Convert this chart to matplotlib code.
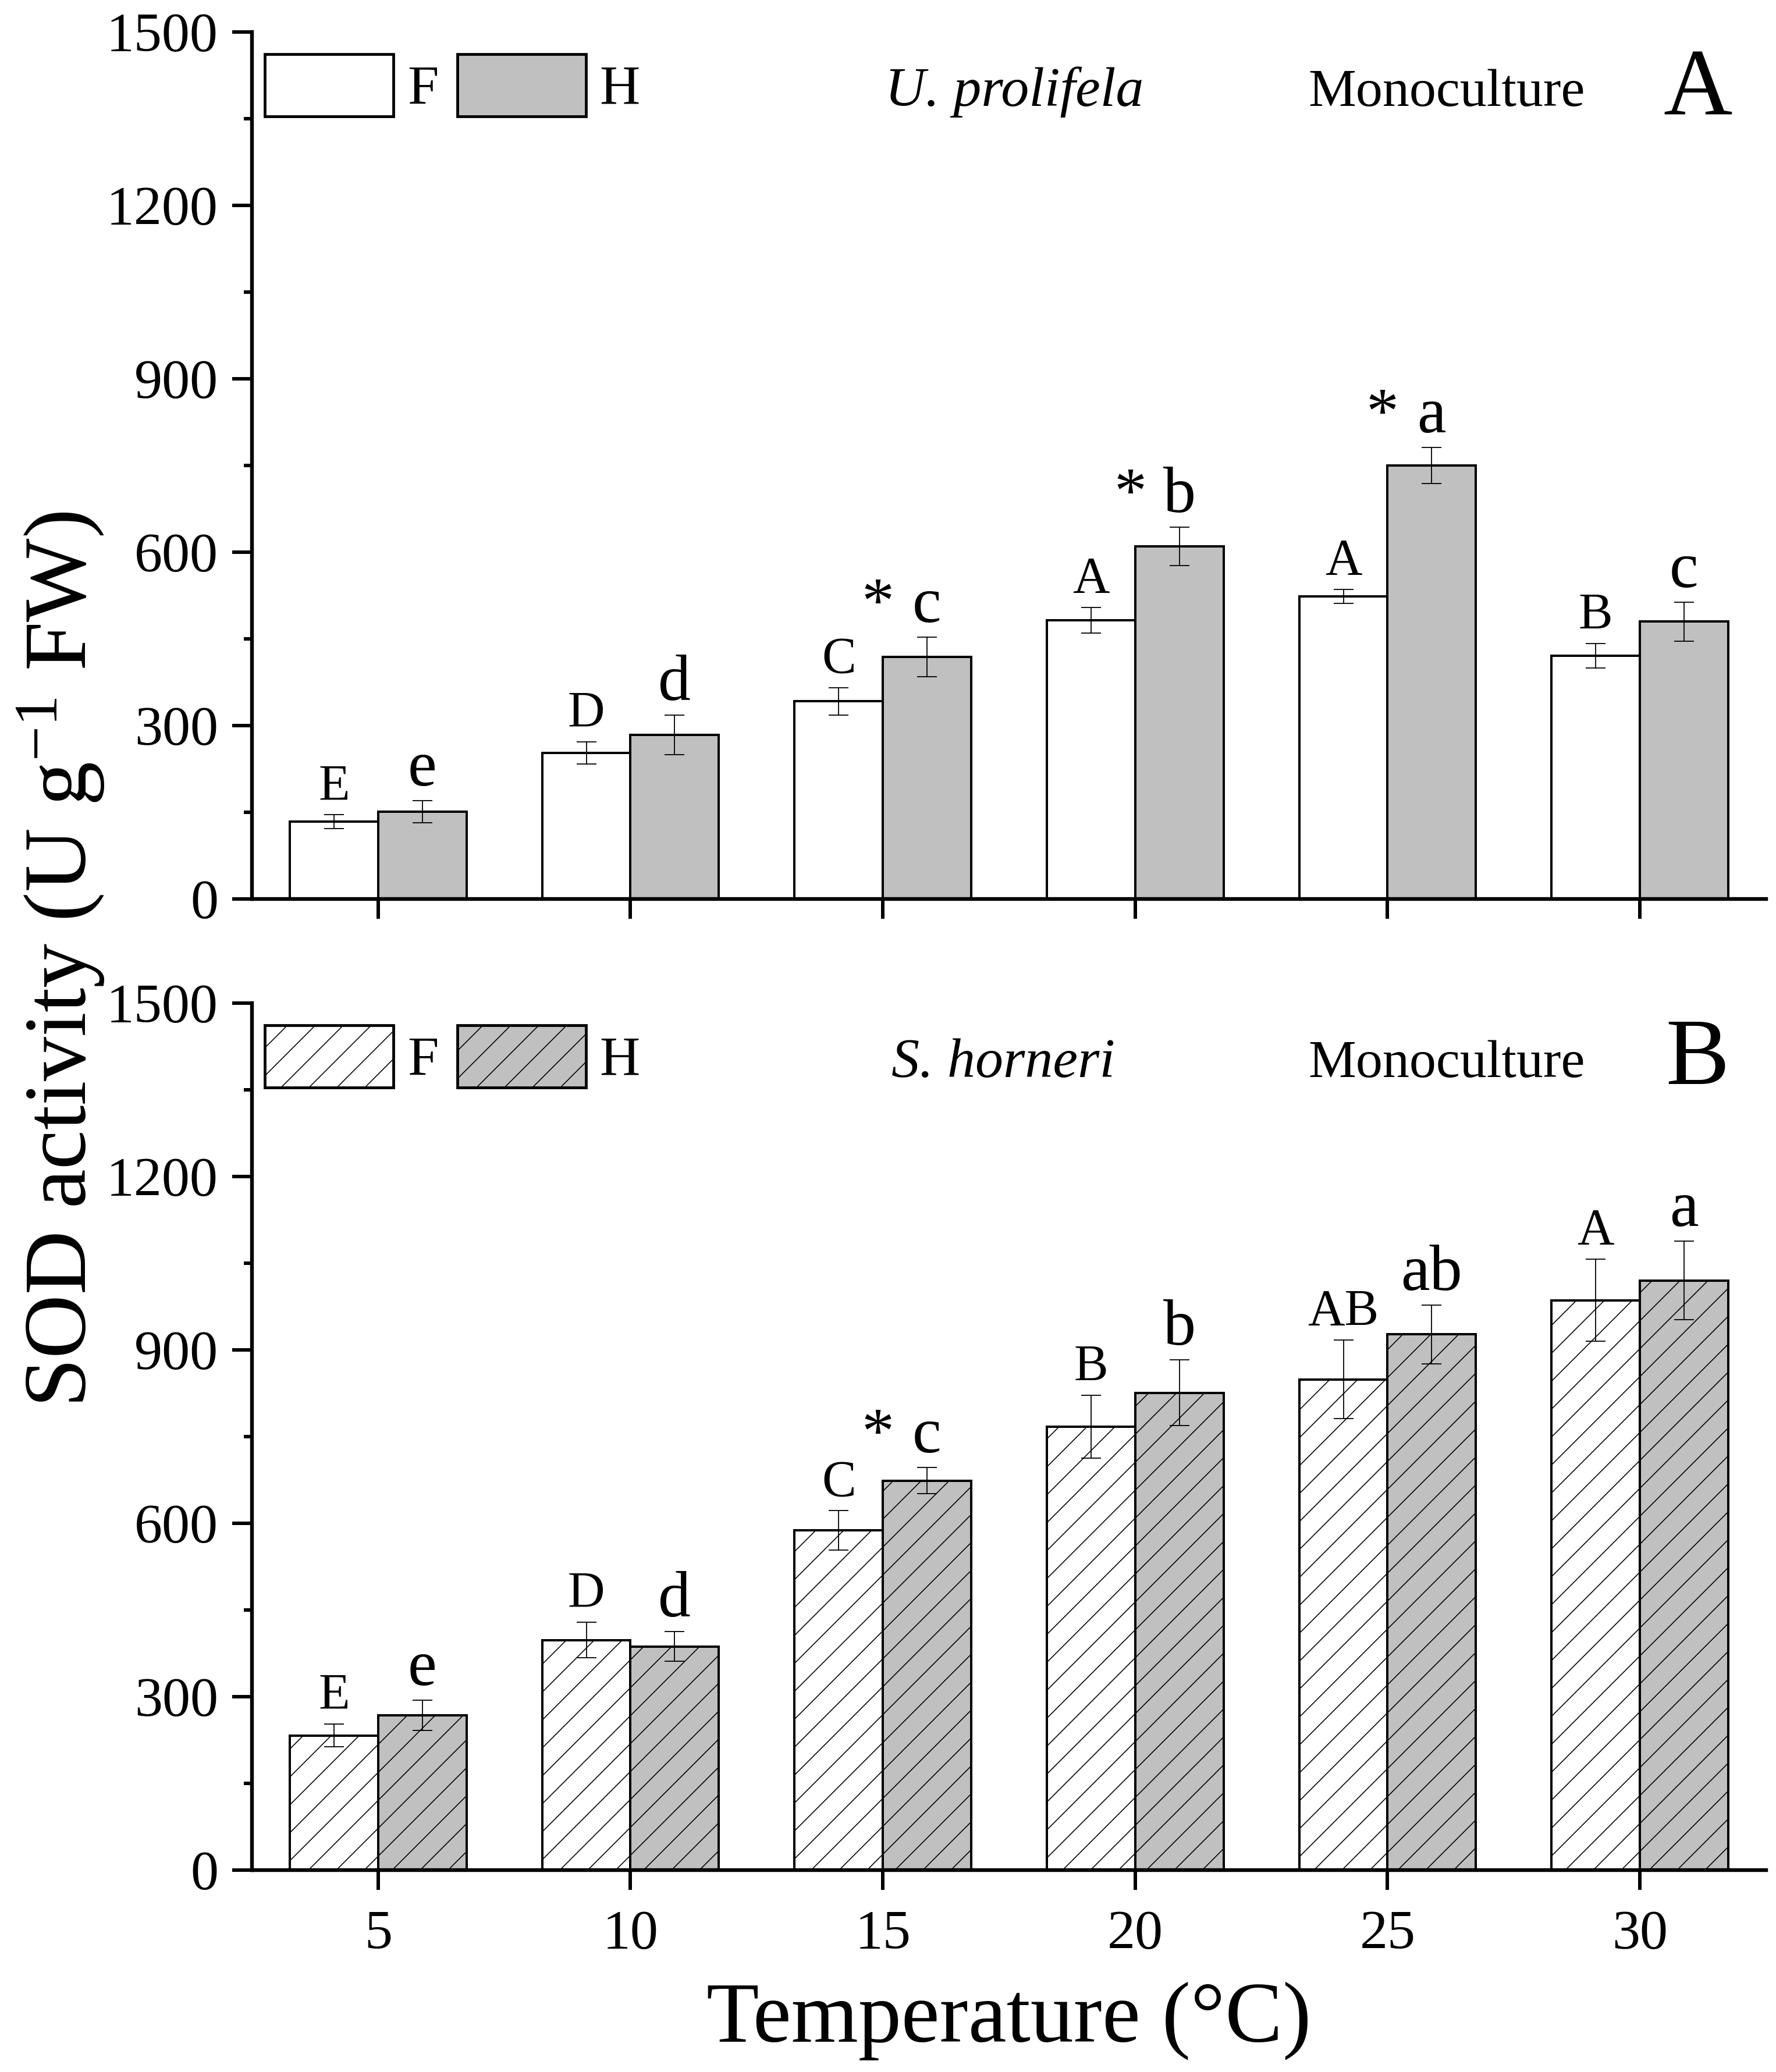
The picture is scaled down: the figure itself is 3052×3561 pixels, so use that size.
import matplotlib
matplotlib.use("Agg")
import matplotlib.pyplot as plt
from matplotlib.patches import Patch
from matplotlib.ticker import MultipleLocator
import numpy as np

plt.rcParams["font.family"] = ["Liberation Serif", "DejaVu Serif"]
plt.rcParams["mathtext.fontset"] = "custom"
plt.rcParams["mathtext.rm"] = "Liberation Serif"
plt.rcParams["mathtext.it"] = "Liberation Serif:italic"
plt.rcParams["hatch.linewidth"] = 0.4
plt.rcParams["hatch.color"] = "black"

temps = ["5", "10", "15", "20", "25", "30"]

# panel A, U. prolifela
ulva_F = [134, 253, 342, 482, 524, 421]
ulva_F_err = [12, 19, 24, 22, 12, 21]
ulva_H = [151, 284, 419, 610, 750, 480]
ulva_H_err = [19, 34, 34, 33, 31, 34]
ulva_F_lbl = ["E", "D", "C", "A", "A", "B"]
ulva_H_lbl = ["e", "d", "c", "b", "a", "c"]
ulva_star = [False, False, True, True, True, False]

# panel B, S. horneri
sarg_F = [233, 398, 588, 767, 849, 986]
sarg_F_err = [20, 31, 34, 54, 68, 71]
sarg_H = [268, 387, 674, 826, 927, 1020]
sarg_H_err = [26, 26, 23, 57, 51, 68]
sarg_F_lbl = ["E", "D", "C", "B", "AB", "A"]
sarg_H_lbl = ["e", "d", "c", "b", "ab", "a"]
sarg_star = [False, False, True, False, False, False]

GREY = "#c0c0c0"
W = 0.35
DPI = 288


def panel(ax, F, Ferr, H, Herr, Flbl, Hlbl, star, hatch, species, sp_x, letter, let_y, xlabels):
    x = np.arange(len(temps))
    ekw = dict(elinewidth=0.45, capsize=4.3, capthick=0.45, ecolor="black")
    ax.bar(x - W / 2, F, W, yerr=Ferr, color="white", edgecolor="black",
           linewidth=1.0, hatch=hatch, error_kw=ekw)
    ax.bar(x + W / 2, H, W, yerr=Herr, color=GREY, edgecolor="black",
           linewidth=1.0, hatch=hatch, error_kw=ekw)

    for i in range(len(x)):
        ax.annotate(Flbl[i], xy=(x[i] - W / 2, F[i] + Ferr[i]), xytext=(0, 6.5),
                    textcoords="offset points", ha="center", va="baseline", fontsize=22)
        ax.annotate(Hlbl[i], xy=(x[i] + W / 2, H[i] + Herr[i]), xytext=(0, 6.5),
                    textcoords="offset points", ha="center", va="baseline", fontsize=28)
        if star[i]:
            ax.annotate("*", xy=(x[i] - 0.02, H[i] + Herr[i]), xytext=(0, 6.5),
                        textcoords="offset points", ha="center", va="baseline", fontsize=28)

    ax.set_xlim(-0.5, 5.5)
    ax.set_ylim(0, 1500)
    ax.set_xticks(x)
    ax.set_xticklabels(temps if xlabels else [])
    ax.set_yticks(range(0, 1501, 300))
    ax.yaxis.set_minor_locator(MultipleLocator(150))
    ax.tick_params(axis="both", which="major", direction="out", length=8.5, width=1.5,
                   labelsize=24)
    ax.tick_params(axis="y", which="major", pad=6)
    ax.tick_params(axis="x", which="major", pad=8.5)
    ax.tick_params(axis="y", which="minor", direction="out", length=3.5, width=1.5)
    for s in ["top", "right"]:
        ax.spines[s].set_visible(False)
    for s in ["left", "bottom"]:
        ax.spines[s].set_linewidth(1.6)

    handles = [Patch(facecolor="white", edgecolor="black", linewidth=1.2, hatch=hatch),
               Patch(facecolor=GREY, edgecolor="black", linewidth=1.2, hatch=hatch)]
    ax.legend(handles, ["F", "H"], loc="upper left", bbox_to_anchor=(0.0085, 0.9745),
              ncol=2, frameon=False, fontsize=24, handlelength=2.3, handleheight=1.33,
              handletextpad=0.25, columnspacing=0.34, borderpad=0, borderaxespad=0)

    ax.text(sp_x, 0.915, species, transform=ax.transAxes,
            ha="center", va="baseline", fontsize=24, fontstyle="italic")
    ax.text(0.789, 0.915, "Monoculture", transform=ax.transAxes,
            ha="center", va="baseline", fontsize=23)
    ax.text(0.9547, let_y, letter, transform=ax.transAxes,
            ha="center", va="baseline", fontsize=41)


fig = plt.figure(figsize=(3052 / DPI, 3561 / DPI), dpi=DPI)
ax_a = fig.add_axes([0.14187, 0.5661, 0.85256, 0.41844])
ax_b = fig.add_axes([0.14187, 0.09744, 0.85256, 0.41842])

panel(ax_a, ulva_F, ulva_F_err, ulva_H, ulva_H_err, ulva_F_lbl, ulva_H_lbl, ulva_star,
      None, "U. prolifela", 0.5035, "A", 0.905, False)
panel(ax_b, sarg_F, sarg_F_err, sarg_H, sarg_H_err, sarg_F_lbl, sarg_H_lbl, sarg_star,
      "//", "S. horneri", 0.496, "B", 0.907, True)

fig.text(0.0485, 0.537, "SOD activity (U g$^{-1}$ FW)", rotation=90,
         rotation_mode="anchor", ha="center", va="baseline", fontsize=38)
fig.text(0.568, 0.0146, "Temperature (°C)", ha="center", va="baseline", fontsize=37)

fig.savefig("out.png", dpi=DPI)
